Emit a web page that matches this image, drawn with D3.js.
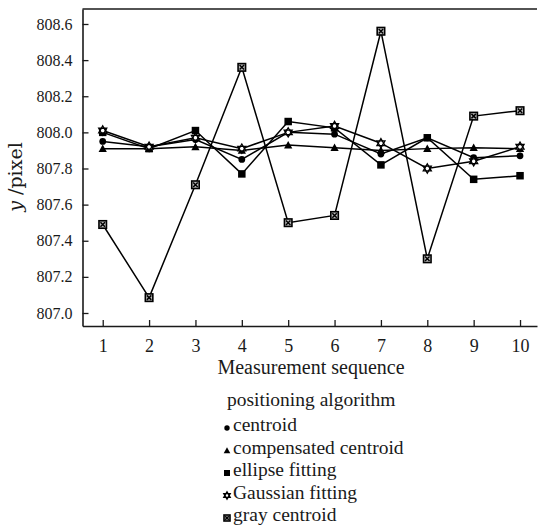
<!DOCTYPE html>
<html><head><meta charset="utf-8">
<script src="https://cdn.jsdelivr.net/npm/d3@7"></script>
<style>body{margin:0;background:#fff}svg{display:block}</style>
</head><body>
<svg id="chart" width="538" height="529"></svg>
<script>
const sequence = [1,2,3,4,5,6,7,8,9,10];
const centroid = [807.95,807.92,807.96,807.85,808.00,807.99,807.88,807.97,807.86,807.87];
const compensatedCentroid = [807.91,807.91,807.92,807.90,807.93,807.915,807.90,807.91,807.915,807.91];
const ellipseFitting = [808.00,807.91,808.01,807.77,808.06,808.025,807.82,807.97,807.74,807.76];
const gaussianFitting = [808.01,807.92,807.97,807.91,808.00,808.035,807.94,807.80,807.84,807.92];
const grayCentroid = [807.49,807.085,807.71,808.36,807.50,807.54,808.56,807.30,808.09,808.12];
const yTicks = [807.0,807.2,807.4,807.6,807.8,808.0,808.2,808.4,808.6];
const seriesNames = ["centroid","compensated centroid","ellipse fitting","Gaussian fitting","gray centroid"];
const seriesValues = [centroid, compensatedCentroid, ellipseFitting, gaussianFitting, grayCentroid];
const markerTypes = ["circle","triangle","square","star","xsquare"];

(function(){
const svg = d3.select("#chart");
const pLeft = 82.5, pRight = 537, pTop = 9, pBottom = 326;
const x = d3.scaleLinear().domain([0.564, 10.366]).range([pLeft, pRight]);
const y = d3.scaleLinear().domain([806.928, 808.683]).range([pBottom, pTop]);
const serif = "Liberation Serif";
const ink = "#1a1a1a";

const xAxis = d3.axisBottom(x).tickValues(sequence).tickSizeInner(-6).tickSizeOuter(0).tickPadding(12).tickFormat(d3.format("d"));
const gx = svg.append("g").attr("transform", `translate(0,${pBottom})`).call(xAxis).attr("font-family", serif);
gx.select(".domain").attr("stroke", ink).attr("stroke-width", 1.6);
gx.selectAll(".tick line").attr("stroke", ink).attr("stroke-width", 1.3);
gx.selectAll(".tick text").style("font-family", serif).attr("font-size", 18).attr("fill", ink).attr("dy", "0.75em");

const yAxis = d3.axisLeft(y).tickValues(yTicks).tickSizeInner(-6).tickSizeOuter(0).tickPadding(10).tickFormat(d3.format(".1f"));
const gy = svg.append("g").attr("transform", `translate(${pLeft},0)`).call(yAxis).attr("font-family", serif);
gy.select(".domain").attr("stroke", ink).attr("stroke-width", 1.6);
gy.selectAll(".tick line").attr("stroke", ink).attr("stroke-width", 1.3);
gy.selectAll(".tick text").style("font-family", serif).attr("font-size", 16).attr("fill", ink);

svg.append("line").attr("x1", pLeft).attr("x2", pRight).attr("y1", pTop).attr("y2", pTop)
  .attr("stroke", ink).attr("stroke-width", 1.6);

function drawMarker(g, type, s) {
  if (type === "circle") {
    g.append("circle").attr("r", s*0.45).attr("fill", "#000");
  } else if (type === "triangle") {
    g.append("path").attr("d", `M0,${-s*0.55}L${s*0.55},${s*0.45}L${-s*0.55},${s*0.45}Z`).attr("fill", "#000");
  } else if (type === "square") {
    g.append("rect").attr("x", -s/2).attr("y", -s/2).attr("width", s).attr("height", s).attr("fill", "#000");
  } else if (type === "star") {
    const r = s*0.62;
    const t1 = d3.range(3).map(i => [r*Math.sin(i*2*Math.PI/3), -r*Math.cos(i*2*Math.PI/3)]);
    const t2 = d3.range(3).map(i => [r*Math.sin(i*2*Math.PI/3+Math.PI), -r*Math.cos(i*2*Math.PI/3+Math.PI)]);
    const line = d3.line();
    g.append("path").attr("d", line(t1)+"Z").attr("fill", "#fff").attr("stroke", "#000").attr("stroke-width", 1.3);
    g.append("path").attr("d", line(t2)+"Z").attr("fill", "none").attr("stroke", "#000").attr("stroke-width", 1.3);
  } else if (type === "xsquare") {
    const h = s/2;
    g.append("rect").attr("x", -h).attr("y", -h).attr("width", s).attr("height", s)
      .attr("fill", "#bbb").attr("stroke", "#000").attr("stroke-width", 1.6);
    g.append("path").attr("d", `M${-h*0.6},${-h*0.6}L${h*0.6},${h*0.6}M${h*0.6},${-h*0.6}L${-h*0.6},${h*0.6}`)
      .attr("stroke", "#000").attr("stroke-width", 1.5);
  }
}

const lineGen = d3.line().x((d,i) => x(sequence[i])).y(d => y(d));
seriesValues.forEach((vals) => {
  svg.append("path").datum(vals).attr("d", lineGen).attr("fill", "none")
    .attr("stroke", "#000").attr("stroke-width", 1.5);
});
seriesValues.forEach((vals, si) => {
  vals.forEach((v, i) => {
    const g = svg.append("g").attr("transform", `translate(${x(sequence[i])},${y(v)})`);
    drawMarker(g, markerTypes[si], 7.5);
  });
});

svg.append("text").attr("x", (218+404)/2).attr("y", 374).attr("text-anchor", "middle")
  .style("font-family", serif).attr("font-size", 20).attr("fill", ink).text("Measurement sequence");

const yl = svg.append("text").attr("transform", "translate(22,177) rotate(-90)").attr("text-anchor", "middle")
  .style("font-family", "DejaVu Serif").attr("font-size", 19).attr("fill", ink);
yl.append("tspan").attr("font-style", "italic").text("y");
yl.append("tspan").text(" /pixel");

const legX = 227;
svg.append("text").attr("x", legX).attr("y", 406).style("font-family", serif).attr("font-size", 19.5)
  .attr("fill", ink).text("positioning algorithm");
seriesNames.forEach((name, i) => {
  const by = 431 + i*22.5;
  const g = svg.append("g").attr("transform", `translate(${legX},${by-3})`);
  drawMarker(g, markerTypes[i], 6);
  svg.append("text").attr("x", legX+6).attr("y", by).style("font-family", serif).attr("font-size", 19.5)
    .attr("fill", ink).text(name);
});
})();
</script>
</body></html>
